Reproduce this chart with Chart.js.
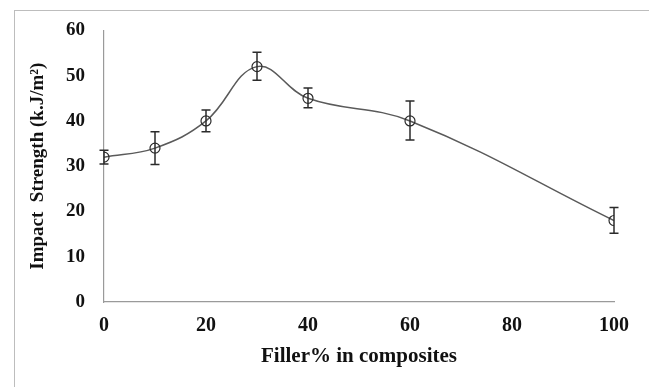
<!DOCTYPE html>
<html lang="en">
  <head>
    <meta charset="UTF-8" />
    <title>Impact Strength</title>
    <script src="https://cdn.jsdelivr.net/npm/chart.js"></script>
    <style>
      html, body { margin: 0; padding: 0; background: #fff; }
      #wrap { position: relative; width: 649px; height: 387px; overflow: hidden; }
      #frame {
        position: absolute; left: 14px; top: 10px; width: 700px; height: 400px;
        border-left: 1px solid #bdbdbd; border-top: 1px solid #bdbdbd;
        pointer-events: none;
      }
    </style>
  </head>
  <body>
    <div id="wrap">
      <canvas id="impactChart" width="649" height="387"></canvas>
      <div id="frame"></div>
    </div>

    <script>
      // Filler content (%) and measured impact strength
      const fillerPct = [0, 10, 20, 30, 40, 60, 100]
      const impactStrength = [32, 34, 40, 52, 45, 40, 18]
      const errorUp = [1.5, 3.6, 2.4, 3.2, 2.3, 4.4, 2.9]
      const errorDown = [1.5, 3.6, 2.4, 3.0, 2.1, 4.2, 2.8]

      const serif = "'Liberation Serif', 'Times New Roman', serif"

      // draws vertical error bars with caps at each point
      const errorBars = {
        id: 'errorBars',
        afterDatasetsDraw(chart) {
          const { ctx, scales } = chart
          ctx.save()
          ctx.strokeStyle = '#2b2b2b'
          ctx.lineWidth = 1.5
          fillerPct.forEach((x, i) => {
            const px = scales.x.getPixelForValue(x)
            const top = scales.y.getPixelForValue(impactStrength[i] + errorUp[i])
            const bot = scales.y.getPixelForValue(impactStrength[i] - errorDown[i])
            ctx.beginPath()
            ctx.moveTo(px, top)
            ctx.lineTo(px, bot)
            ctx.moveTo(px - 4.5, top)
            ctx.lineTo(px + 4.5, top)
            ctx.moveTo(px - 4.5, bot)
            ctx.lineTo(px + 4.5, bot)
            ctx.stroke()
          })
          ctx.restore()
        }
      }

      new Chart(document.getElementById('impactChart'), {
        type: 'line',
        data: {
          datasets: [
            {
              data: fillerPct.map((x, i) => ({ x: x, y: impactStrength[i] })),
              borderColor: '#5a5a5a',
              borderWidth: 1.5,
              tension: 0.4,
              pointRadius: 5,
              pointBorderWidth: 1.2,
              pointBorderColor: '#2b2b2b',
              pointBackgroundColor: 'rgba(255,255,255,0)'
            }
          ]
        },
        options: {
          responsive: false,
          animation: false,
          layout: { padding: { left: 0, right: 35, top: 30, bottom: 10 } },
          plugins: { legend: { display: false }, tooltip: { enabled: false } },
          scales: {
            x: {
              type: 'linear',
              min: 0,
              max: 100,
              ticks: {
                stepSize: 20,
                padding: 12,
                color: '#111',
                font: { family: serif, size: 20, weight: 'bold' }
              },
              grid: { display: false, drawTicks: false },
              border: { display: true, color: '#9a9a9a', width: 1.2 },
              title: {
                display: true,
                text: 'Filler% in composites',
                color: '#111',
                padding: { top: 0, bottom: 8 },
                font: { family: serif, size: 21, weight: 'bold' }
              },
              afterFit(scale) { scale.height = 75 }
            },
            y: {
              min: 0,
              max: 60,
              ticks: {
                stepSize: 10,
                padding: 19,
                color: '#111',
                font: { family: serif, size: 19, weight: 'bold' }
              },
              grid: { display: false, drawTicks: false },
              border: { display: true, color: '#9a9a9a', width: 1.2 },
              title: {
                display: true,
                text: 'Impact  Strength (k.J/m²)',
                color: '#111',
                padding: { top: 27, bottom: 0 },
                font: { family: serif, size: 19, weight: 'bold' }
              },
              afterFit(scale) { scale.width = 104 }
            }
          }
        },
        plugins: [errorBars]
      })
    </script>
  </body>
</html>
